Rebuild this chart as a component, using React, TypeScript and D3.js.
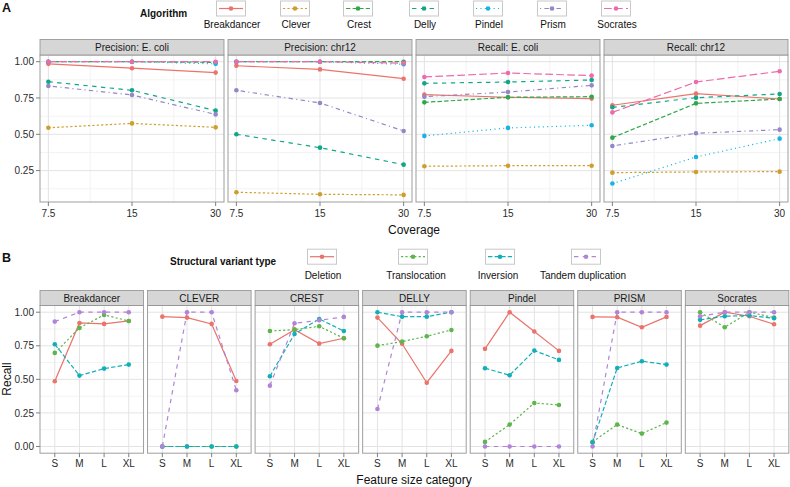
import React from "react";
import * as d3 from "d3";

// ---------- Panel A data ----------
const coverage = [7.5, 15, 30];
const algorithms = ["Breakdancer", "Clever", "Crest", "Delly", "Pindel", "Prism", "Socrates"];
const algoColors = ["#EC736D", "#CF9E2C", "#2EA84A", "#11A688", "#16B3E4", "#9586C8", "#EE6AAC"];
const algoDash = ["", "2.2,2.2", "4.4,2.2", "4.4,4.4", "1.1,3.3", "1.1,3.3,4.4,3.3", "7.7,3.3"];
const panelTitlesA = ["Precision: E. coli", "Precision: chr12", "Recall: E. coli", "Recall: chr12"];

const precisionEcoli = [
  [0.985, 0.955, 0.925],
  [0.545, 0.575, 0.548],
  [1.0, 1.0, 0.995],
  [0.862, 0.803, 0.663],
  [1.0, 1.0, 0.985],
  [0.833, 0.771, 0.637],
  [1.0, 1.0, 1.0],
];
const precisionChr12 = [
  [0.972, 0.947, 0.883],
  [0.101, 0.087, 0.083],
  [1.0, 1.0, 1.0],
  [0.5, 0.408, 0.291],
  [1.0, 1.0, 0.982],
  [0.803, 0.716, 0.523],
  [1.0, 1.0, 0.99],
];
const recallEcoli = [
  [0.773, 0.755, 0.746],
  [0.28, 0.284, 0.284],
  [0.72, 0.755, 0.759],
  [0.851, 0.86, 0.874],
  [0.489, 0.544, 0.562],
  [0.759, 0.791, 0.837],
  [0.895, 0.922, 0.904],
];
const recallChr12 = [
  [0.7, 0.78, 0.743],
  [0.236, 0.241, 0.243],
  [0.477, 0.713, 0.743],
  [0.686, 0.752, 0.778],
  [0.161, 0.344, 0.47],
  [0.42, 0.507, 0.532],
  [0.651, 0.86, 0.934],
];
const panelDataA = [precisionEcoli, precisionChr12, recallEcoli, recallChr12];
const yTicksA = [0.25, 0.5, 0.75, 1.0];
const yMinorA = [0.125, 0.375, 0.625, 0.875];

// ---------- Panel B data ----------
const sizeCategories = ["S", "M", "L", "XL"];
const svTypes = ["Deletion", "Translocation", "Inversion", "Tandem duplication"];
const svColors = ["#EA736B", "#5DB54D", "#12AFB9", "#B184D6"];
const svDash = ["", "2.2,2.2", "4.4,2.2", "4.4,4.4"];
const toolsB = ["Breakdancer", "CLEVER", "CREST", "DELLY", "Pindel", "PRISM", "Socrates"];

const deletionRecall = [
  [0.486, 0.92, 0.913, 0.935],
  [0.967, 0.96, 0.913, 0.488],
  [0.761, 0.87, 0.766, 0.806],
  [0.96, 0.765, 0.475, 0.712],
  [0.727, 1.0, 0.856, 0.712],
  [0.965, 0.963, 0.888, 0.965],
  [0.9, 1.0, 0.97, 0.91],
];
const translocationRecall = [
  [0.697, 0.883, 0.98, 0.935],
  [0, 0, 0, 0],
  [0.86, 0.87, 0.895, 0.806],
  [0.751, 0.781, 0.821, 0.868],
  [0.034, 0.163, 0.324, 0.309],
  [0.034, 0.163, 0.096, 0.178],
  [1.0, 0.888, 1.0, 0.96],
];
const inversionRecall = [
  [0.761, 0.528, 0.58, 0.61],
  [0, 0, 0, 0],
  [0.523, 0.838, 0.95, 0.86],
  [1.0, 0.967, 0.967, 1.0],
  [0.583, 0.531, 0.714, 0.645],
  [0.03, 0.585, 0.635, 0.61],
  [0.943, 0.97, 0.975, 0.955],
];
const tandemRecall = [
  [0.93, 1.0, 1.0, 1.0],
  [0, 1.0, 1.0, 0.419],
  [0.453, 0.918, 0.94, 0.965],
  [0.279, 1.0, 1.0, 1.0],
  [0, 0, 0, 0],
  [0, 1.0, 1.0, 1.0],
  [0.97, 1.0, 1.0, 1.0],
];
const svData = [deletionRecall, translocationRecall, inversionRecall, tandemRecall];
const yTicksB = [0, 0.25, 0.5, 0.75, 1.0];
const yMinorB = [0.125, 0.375, 0.625, 0.875];

const FONT = "Liberation Sans, Arial, Helvetica, sans-serif";
const GRID_MAJOR = "#E3E3E3";
const GRID_MINOR = "#F3F3F3";
const BORDER = "#9E9E9E";
const STRIP_FILL = "#D6D6D6";
const STRIP_STROKE = "#8F8F8F";
const TEXT = "#2B2B2B";

function PanelA({ idx }: { idx: number }) {
  const w = 184;
  const x0 = 40 + idx * 188;
  const top = 55;
  const bottom = 202;
  const x = d3
    .scaleLog()
    .base(2)
    .domain([7.5 / Math.pow(2, 0.1), 30 * Math.pow(2, 0.1)])
    .range([x0, x0 + w]);
  const y = d3.scaleLinear().domain([0.034, 1.046]).range([bottom, top]);
  const xMinor = [7.5 * Math.SQRT2, 15 * Math.SQRT2];
  const data = panelDataA[idx];
  const line = d3
    .line<number>()
    .x((_, i) => x(coverage[i]))
    .y((d) => y(d));
  return (
    <g>
      <rect x={x0} y={top} width={w} height={bottom - top} fill="white" />
      {yMinorA.map((t) => (
        <line key={"ym" + t} x1={x0} x2={x0 + w} y1={y(t)} y2={y(t)} stroke={GRID_MINOR} strokeWidth={1} />
      ))}
      {xMinor.map((t) => (
        <line key={"xm" + t} x1={x(t)} x2={x(t)} y1={top} y2={bottom} stroke={GRID_MINOR} strokeWidth={1} />
      ))}
      {yTicksA.map((t) => (
        <line key={"y" + t} x1={x0} x2={x0 + w} y1={y(t)} y2={y(t)} stroke={GRID_MAJOR} strokeWidth={1} />
      ))}
      {coverage.map((t) => (
        <line key={"x" + t} x1={x(t)} x2={x(t)} y1={top} y2={bottom} stroke={GRID_MAJOR} strokeWidth={1} />
      ))}
      {data.map((vals, a) => (
        <path
          key={"l" + a}
          d={line(vals) || ""}
          fill="none"
          stroke={algoColors[a]}
          strokeWidth={1.2}
          strokeDasharray={algoDash[a] || undefined}
        />
      ))}
      {data.map((vals, a) =>
        vals.map((v, i) => (
          <circle key={"p" + a + "-" + i} cx={x(coverage[i])} cy={y(v)} r={2.3} fill={algoColors[a]} />
        ))
      )}
      <rect x={x0} y={top} width={w} height={bottom - top} fill="none" stroke={BORDER} strokeWidth={1} />
      <rect x={x0} y={39.5} width={w} height={15.5} fill={STRIP_FILL} stroke={STRIP_STROKE} strokeWidth={0.8} />
      <text x={x0 + w / 2} y={51} textAnchor="middle" fontSize={10} fontFamily={FONT} fill="#1a1a1a">
        {panelTitlesA[idx]}
      </text>
      {coverage.map((t) => (
        <g key={"xt" + t}>
          <line x1={x(t)} x2={x(t)} y1={bottom} y2={bottom + 4} stroke="#7F7F7F" strokeWidth={1} />
          <text x={x(t)} y={217} textAnchor="middle" fontSize={10} fontFamily={FONT} fill={TEXT}>
            {t}
          </text>
        </g>
      ))}
      {idx === 0 &&
        yTicksA.map((t) => (
          <g key={"yt" + t}>
            <line x1={x0 - 4} x2={x0} y1={y(t)} y2={y(t)} stroke="#7F7F7F" strokeWidth={1} />
            <text x={x0 - 6} y={y(t) + 3.6} textAnchor="end" fontSize={10} fontFamily={FONT} fill={TEXT}>
              {t.toFixed(2)}
            </text>
          </g>
        ))}
    </g>
  );
}

function PanelB({ idx }: { idx: number }) {
  const w = 103.55;
  const x0 = 40 + idx * 107.55;
  const top = 305.5;
  const bottom = 453.2;
  const x = d3.scalePoint<string>().domain(sizeCategories).range([x0, x0 + w]).padding(0.6);
  const y = d3.scaleLinear().domain([-0.05, 1.05]).range([bottom, top]);
  const line = d3
    .line<number>()
    .x((_, i) => x(sizeCategories[i]) as number)
    .y((d) => y(d));
  return (
    <g>
      <rect x={x0} y={top} width={w} height={bottom - top} fill="white" />
      {yMinorB.map((t) => (
        <line key={"ym" + t} x1={x0} x2={x0 + w} y1={y(t)} y2={y(t)} stroke={GRID_MINOR} strokeWidth={1} />
      ))}
      {yTicksB.map((t) => (
        <line key={"y" + t} x1={x0} x2={x0 + w} y1={y(t)} y2={y(t)} stroke={GRID_MAJOR} strokeWidth={1} />
      ))}
      {sizeCategories.map((c) => (
        <line key={"x" + c} x1={x(c)} x2={x(c)} y1={top} y2={bottom} stroke={GRID_MAJOR} strokeWidth={1} />
      ))}
      {svData.map((arr, s) => (
        <path
          key={"l" + s}
          d={line(arr[idx]) || ""}
          fill="none"
          stroke={svColors[s]}
          strokeWidth={1.2}
          strokeDasharray={svDash[s] || undefined}
        />
      ))}
      {svData.map((arr, s) =>
        arr[idx].map((v, i) => (
          <circle key={"p" + s + "-" + i} cx={x(sizeCategories[i]) as number} cy={y(v)} r={2.3} fill={svColors[s]} />
        ))
      )}
      <rect x={x0} y={top} width={w} height={bottom - top} fill="none" stroke={BORDER} strokeWidth={1} />
      <rect x={x0} y={290.5} width={w} height={15} fill={STRIP_FILL} stroke={STRIP_STROKE} strokeWidth={0.8} />
      <text x={x0 + w / 2} y={301.8} textAnchor="middle" fontSize={10} fontFamily={FONT} fill="#1a1a1a">
        {toolsB[idx]}
      </text>
      {sizeCategories.map((c) => (
        <g key={"xt" + c}>
          <line x1={x(c)} x2={x(c)} y1={bottom} y2={bottom + 4} stroke="#7F7F7F" strokeWidth={1} />
          <text x={x(c)} y={467} textAnchor="middle" fontSize={10} fontFamily={FONT} fill={TEXT}>
            {c}
          </text>
        </g>
      ))}
      {idx === 0 &&
        yTicksB.map((t) => (
          <g key={"yt" + t}>
            <line x1={x0 - 4} x2={x0} y1={y(t)} y2={y(t)} stroke="#7F7F7F" strokeWidth={1} />
            <text x={x0 - 6} y={y(t) + 3.6} textAnchor="end" fontSize={10} fontFamily={FONT} fill={TEXT}>
              {t.toFixed(2)}
            </text>
          </g>
        ))}
    </g>
  );
}

const legendAKeyX = [231, 295, 358, 424, 488, 552, 616];
const legendBKeyX = [322, 413, 500, 586];
const legendBLabelX = [323, 416, 498, 583];

function LegendKey({ cx, cy, color, dash }: { cx: number; cy: number; color: string; dash: string }) {
  return (
    <g>
      <rect x={cx - 14.5} y={cy - 7.5} width={29} height={15} fill="white" stroke="#C8C8C8" strokeWidth={1} />
      <line
        x1={cx - 12}
        x2={cx + 12}
        y1={cy}
        y2={cy}
        stroke={color}
        strokeWidth={1.2}
        strokeDasharray={dash || undefined}
      />
      <circle cx={cx} cy={cy} r={2.3} fill={color} />
    </g>
  );
}

export default function App() {
  return (
    <svg
      width={790}
      height={487}
      viewBox="0 0 790 487"
      style={{ position: "absolute", left: 0, top: 0, display: "block", background: "white" }}
    >
      <rect x={0} y={0} width={790} height={487} fill="white" />
      {/* Panel labels */}
      <text x={2} y={12} fontSize={12.5} fontWeight="bold" fontFamily={FONT} fill="#111">
        A
      </text>
      <text x={2} y={262} fontSize={12.5} fontWeight="bold" fontFamily={FONT} fill="#111">
        B
      </text>

      {/* Legend A */}
      <text x={140} y={16.5} fontSize={10} fontWeight="bold" fontFamily={FONT} fill="#111">
        Algorithm
      </text>
      {algorithms.map((a, i) => (
        <g key={"la" + a}>
          <LegendKey cx={legendAKeyX[i]} cy={8.5} color={algoColors[i]} dash={algoDash[i]} />
          <text x={legendAKeyX[i] + 1} y={28} textAnchor="middle" fontSize={10} fontFamily={FONT} fill="#111">
            {a}
          </text>
        </g>
      ))}

      {panelTitlesA.map((_, i) => (
        <PanelA key={"pa" + i} idx={i} />
      ))}
      <text x={414} y={234} textAnchor="middle" fontSize={12} fontFamily={FONT} fill="#111">
        Coverage
      </text>

      {/* Legend B */}
      <text x={170} y={265} fontSize={10} fontWeight="bold" fontFamily={FONT} fill="#111">
        Structural variant type
      </text>
      {svTypes.map((s, i) => (
        <g key={"lb" + s}>
          <LegendKey cx={legendBKeyX[i]} cy={256.7} color={svColors[i]} dash={svDash[i]} />
          <text x={legendBLabelX[i]} y={278.5} textAnchor="middle" fontSize={10} fontFamily={FONT} fill="#111">
            {s}
          </text>
        </g>
      ))}

      {toolsB.map((_, i) => (
        <PanelB key={"pb" + i} idx={i} />
      ))}
      <text x={414} y={484} textAnchor="middle" fontSize={12} fontFamily={FONT} fill="#111">
        Feature size category
      </text>
      <text
        transform="translate(11,379) rotate(-90)"
        textAnchor="middle"
        fontSize={12}
        fontFamily={FONT}
        fill="#111"
      >
        Recall
      </text>
    </svg>
  );
}
